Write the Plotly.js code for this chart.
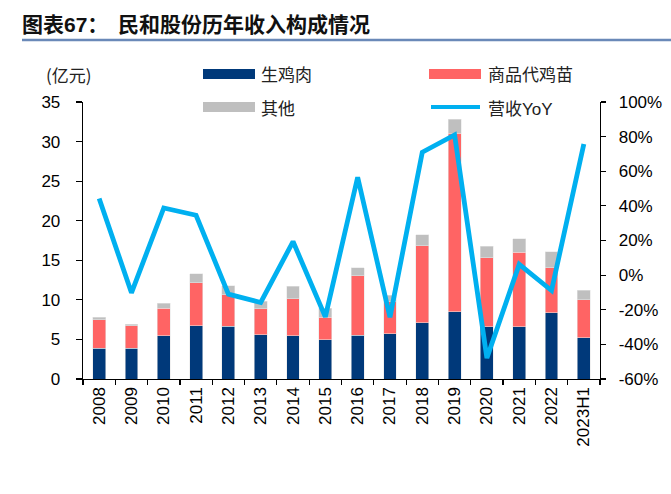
<!DOCTYPE html>
<html>
<head>
<meta charset="utf-8">
<script src="https://cdn.plot.ly/plotly-3.0.1.min.js"></script>
<style>
html,body{margin:0;padding:0;background:#fff;}
#chart{width:671px;height:494px;}
</style>
</head>
<body>
<div id="chart"></div>
<script>
const categories = ['2008','2009','2010','2011','2012','2013','2014','2015','2016','2017','2018','2019','2020','2021','2022','2023H1'];
const chickenMeat = [3.9,3.9,5.45,6.75,6.65,5.6,5.45,4.95,5.55,5.7,7.1,8.5,6.6,6.6,8.35,5.2];
const chicks = [3.6,2.85,3.5,5.4,4.0,3.25,4.7,2.85,7.5,4.05,9.75,22.55,8.7,9.4,5.7,4.8];
const others = [0.3,0.15,0.6,1.15,1.15,1.0,1.6,1.15,1.0,0.85,1.35,1.75,1.5,1.7,2.0,1.2];
const revenueYoY = [44.3,-10.2,38.8,34.6,-11,-15.8,19.4,-24.1,56.5,-24.3,71,81,-47.9,6.2,-8.9,75.8];
const leftTicks = [0,5,10,15,20,25,30,35];
const rightTickVals = [-60,-40,-20,0,20,40,60,80,100];
const rightTickText = ['-60%','-40%','-20%','0%','20%','40%','60%','80%','100%'];
const seriesNames = ['生鸡肉','商品代鸡苗','其他','营收YoY'];

const W = 671, H = 494, L = 83, R = 71, T = 102, B = 115;
const pw = W - L - R, ph = H - T - B;
const px = x => (x - L) / pw;
const py = y => (H - B - y) / ph;

const C_BLUE = '#00397A', C_RED = '#FF6464', C_GRAY = '#BFBFBF', C_LINE = '#00B0F0';
const cjk = '"Noto Sans CJK SC", "Noto Sans", sans-serif';
const latin = '"Liberation Sans", Arial, sans-serif';

const barLine = {color:'rgba(230,230,230,0.9)', width:0.6};
const traces = [
  {type:'bar', x:categories, y:chickenMeat, name:seriesNames[0], marker:{color:C_BLUE, line:barLine}, hoverinfo:'y'},
  {type:'bar', x:categories, y:chicks, name:seriesNames[1], marker:{color:C_RED, line:barLine}, hoverinfo:'y'},
  {type:'bar', x:categories, y:others, name:seriesNames[2], marker:{color:C_GRAY, line:barLine}, hoverinfo:'y'},
  {type:'scatter', mode:'lines', x:categories, y:revenueYoY, name:seriesNames[3], yaxis:'y2', line:{color:C_LINE, width:4.8}}
];

const shapes = [
  {type:'line', xref:'paper', yref:'paper', x0:px(22), x1:px(671), y0:py(40), y1:py(40), line:{color:'#6A89B8', width:2.5}},
  {type:'rect', xref:'paper', yref:'paper', x0:px(203), x1:px(255), y0:py(69), y1:py(79), fillcolor:C_BLUE, line:{width:0}},
  {type:'rect', xref:'paper', yref:'paper', x0:px(429), x1:px(481), y0:py(69), y1:py(79), fillcolor:C_RED, line:{width:0}},
  {type:'rect', xref:'paper', yref:'paper', x0:px(203), x1:px(255), y0:py(102), y1:py(112), fillcolor:C_GRAY, line:{width:0}},
  {type:'line', xref:'paper', yref:'paper', x0:px(431), x1:px(480), y0:py(107), y1:py(107), line:{color:C_LINE, width:4}}
];

const legFont = {family:cjk, size:17, color:'#222'};
const annotations = [
  {xref:'paper', yref:'paper', x:px(69), y:py(75), text:'(亿元)', showarrow:false, xanchor:'center', yanchor:'middle', font:{family:cjk, size:17, color:'#222'}},
  {xref:'paper', yref:'paper', x:px(259), y:py(74), text:seriesNames[0], showarrow:false, xanchor:'left', yanchor:'middle', font:legFont},
  {xref:'paper', yref:'paper', x:px(486), y:py(74), text:seriesNames[1], showarrow:false, xanchor:'left', yanchor:'middle', font:legFont},
  {xref:'paper', yref:'paper', x:px(259), y:py(107), text:seriesNames[2], showarrow:false, xanchor:'left', yanchor:'middle', font:legFont},
  {xref:'paper', yref:'paper', x:px(486), y:py(107), text:'营收<span style="font-family:Liberation Sans, Arial">YoY</span>', showarrow:false, xanchor:'left', yanchor:'middle', font:legFont}
];

const layout = {
  width:W, height:H,
  margin:{l:L, r:R, t:T, b:B, pad:0},
  paper_bgcolor:'#fff', plot_bgcolor:'#fff',
  barmode:'stack', bargap:0.6,
  showlegend:false,
  title:{text:'<b>图表<span style="font-family:Liberation Sans, Arial">67</span>：  民和股份历年收入构成情况</b>', xref:'container', yref:'container', x:22/W, xanchor:'left', y:1-25/H, yanchor:'middle', font:{family:cjk, size:21, color:'#111'}},
  xaxis:{type:'category', showline:true, linecolor:'#000', linewidth:1.3, ticks:'outside', tickson:'boundaries', ticklen:5, tickcolor:'#000', tickwidth:1.2, tickangle:-90, tickfont:{family:latin, size:17, color:'#000'}, showgrid:false, zeroline:false, fixedrange:true},
  yaxis:{range:[0,35], tickvals:leftTicks, showline:true, linecolor:'#000', linewidth:1.3, ticks:'outside', ticklen:6, tickcolor:'#000', tickwidth:1.2, tickfont:{family:latin, size:17, color:'#000'}, ticklabelstandoff:12, showgrid:false, zeroline:false},
  yaxis2:{overlaying:'y', side:'right', range:[-60,100], tickvals:rightTickVals, ticktext:rightTickText, showline:true, linecolor:'#000', linewidth:1.3, ticks:'outside', ticklen:5, tickcolor:'#000', tickwidth:1.2, tickfont:{family:latin, size:17, color:'#000'}, ticklabelstandoff:9, showgrid:false, zeroline:false},
  shapes:shapes,
  annotations:annotations
};

Plotly.newPlot('chart', traces, layout, {displayModeBar:false, staticPlot:true});
</script>
</body>
</html>
